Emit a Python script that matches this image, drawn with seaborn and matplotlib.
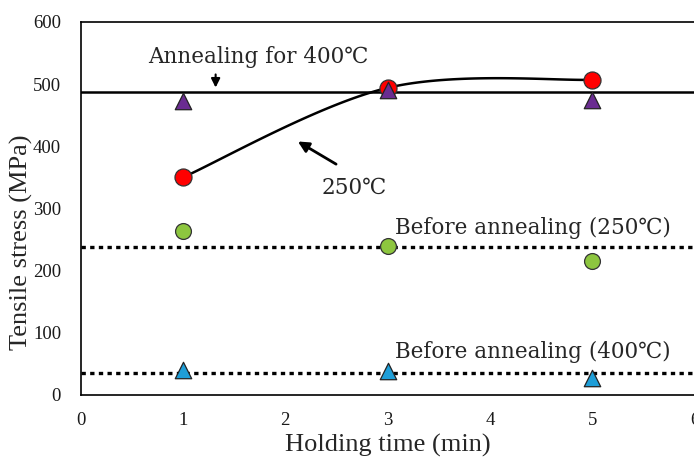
import numpy as np
import pandas as pd
import matplotlib
matplotlib.use("Agg")
import matplotlib.pyplot as plt
import seaborn as sns

# ---- data ----
holding_time = [1, 3, 5]
anneal_250 = [350, 494, 507]          # red circles, smoothed line
anneal_400 = [473, 491, 475]          # purple triangles
before_250 = [264, 240, 216]          # green circles
before_400 = [40, 38, 28]             # blue triangles
ref_anneal_400 = 487                  # solid line
ref_before_250 = 238                  # dotted line
ref_before_400 = 35                   # dotted line
x_ticks = [0, 1, 2, 3, 4, 5, 6]
y_ticks = [0, 100, 200, 300, 400, 500, 600]

sns.set_theme(style="white")
serif = ["Liberation Serif", "Noto Sans CJK JP", "DejaVu Serif"]
wide_serif = ["DejaVu Serif", "Noto Sans CJK JP"]
plt.rcParams["font.family"] = serif

fig = plt.figure(figsize=(6.94, 4.57), dpi=100)
ax = fig.add_axes([0.116, 0.1357, 0.885, 0.8163])

# reference lines
ax.axhline(ref_anneal_400, color="black", lw=1.8, zorder=1)
ax.axhline(ref_before_250, color="black", lw=2.4, dashes=(1.3, 1.3), zorder=1)
ax.axhline(ref_before_400, color="black", lw=2.4, dashes=(1.3, 1.3), zorder=1)

# smoothed (Excel-style Catmull-Rom Bezier) line through the 250C annealed points
P = np.column_stack([holding_time, anneal_250]).astype(float)
curve = []
t = np.linspace(0, 1, 60)
for i in range(len(P) - 1):
    p0 = P[i - 1] if i > 0 else P[i]
    p1, p2 = P[i], P[i + 1]
    p3 = P[i + 2] if i + 2 < len(P) else P[i + 1]
    c1 = p1 + (p2 - p0) / 6.0
    c2 = p2 - (p3 - p1) / 6.0
    seg = ((1 - t) ** 3)[:, None] * p1 + (3 * (1 - t) ** 2 * t)[:, None] * c1 \
        + (3 * (1 - t) * t ** 2)[:, None] * c2 + (t ** 3)[:, None] * p2
    curve.append(seg)
curve = np.vstack(curve)
curve_df = pd.DataFrame({"x": curve[:, 0], "y": curve[:, 1]})
sns.lineplot(data=curve_df, x="x", y="y", sort=False, color="black", lw=1.8,
             ax=ax, zorder=2)

df = pd.DataFrame({"t": holding_time, "a250": anneal_250, "a400": anneal_400,
                   "b250": before_250, "b400": before_400})
sns.scatterplot(data=df, x="t", y="b250", marker="o", s=130, color="#8DC63F",
                edgecolor="#333333", linewidth=0.9, ax=ax, zorder=3)
sns.scatterplot(data=df, x="t", y="b400", marker="^", s=140, color="#1E9ED8",
                edgecolor="#222222", linewidth=0.9, ax=ax, zorder=3)
sns.scatterplot(data=df, x="t", y="a250", marker="o", s=150, color="#FF0000",
                edgecolor="#333333", linewidth=0.9, ax=ax, zorder=4)
sns.scatterplot(data=df, x="t", y="a400", marker="^", s=140, color="#6A2C91",
                edgecolor="#222222", linewidth=0.9, ax=ax, zorder=5)

ax.set_xlim(0, 6)
ax.set_ylim(0, 600)
ax.set_xticks(x_ticks)
ax.set_yticks(y_ticks)
ax.tick_params(direction="in", length=5, width=1, colors="black",
               labelsize=13.5, labelcolor="#1a1a1a")
ax.tick_params(axis="x", pad=12)
ax.tick_params(axis="y", pad=14)
for s in ax.spines.values():
    s.set_color("black")
    s.set_linewidth(1.2)

ax.set_xlabel("Holding time (min)", fontsize=19, va="top")
ax.set_ylabel("Tensile stress (MPa)", fontsize=19)
ax.xaxis.set_label_coords(0.5, -0.104)
ax.yaxis.set_label_coords(-0.077, 0.41)

# annotations
fs = 15.5
ax.text(0.66, 543, "Annealing for 400℃", fontsize=fs, ha="left", va="center",
        family=wide_serif)
ax.annotate("", xy=(1.32, 490), xytext=(1.32, 520),
            arrowprops=dict(arrowstyle="-|>", color="black", lw=1.5,
                            mutation_scale=13))
ax.annotate("", xy=(2.1, 410), xytext=(2.52, 369),
            arrowprops=dict(arrowstyle="-|>", color="black", lw=2,
                            mutation_scale=16))
ax.text(2.67, 333, "250℃", fontsize=fs, ha="center", va="center", family=wide_serif)
ax.text(3.07, 269, "Before annealing (250℃)", fontsize=fs, ha="left", va="center",
        family=wide_serif)
ax.text(3.07, 69, "Before annealing (400℃)", fontsize=fs, ha="left", va="center",
        family=wide_serif)

fig.savefig("out.png", dpi=100)
